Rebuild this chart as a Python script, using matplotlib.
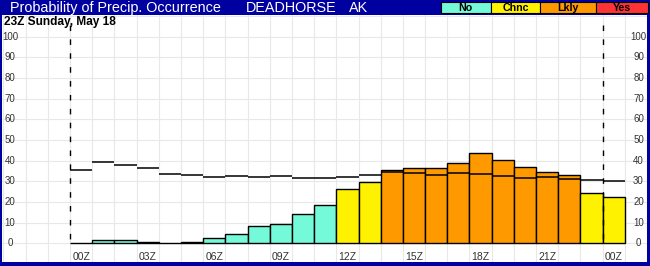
import numpy as np
import matplotlib
matplotlib.use('Agg')
import matplotlib.pyplot as plt
from matplotlib.patches import Rectangle
from matplotlib.transforms import blended_transform_factory

plt.rcParams['font.family'] = ['Liberation Sans', 'DejaVu Sans']

# hourly slots: 00Z .. next 00Z
horas = np.arange(25)
prob = [0, 1.5, 1.5, 0.8, 0, 0.8, 2.4, 4.3, 8.2, 9.5, 14.3, 18.4,
        26.4, 29.5, 35.3, 36.3, 36.3, 38.7, 43.5, 40.2, 36.8, 34.3, 32.9,
        24.2, 22.3]
referencia = [35.3, 39.2, 37.7, 36.3, 33.4, 32.9, 31.9, 32.4, 31.9, 32.4, 31.4, 31.4,
              31.9, 32.9, 34.3, 33.9, 32.9, 33.9, 33.4, 32.4, 31.4, 31.9, 31.0,
              30.5, 30.0]
rotulos_x = ['00Z', '03Z', '06Z', '09Z', '12Z', '15Z', '18Z', '21Z', '00Z']
categorias = ['No', 'Chnc', 'Lkly', 'Yes']
cores_cat = ['#74F9D9', '#FFF200', '#FF9900', '#FF3333']
limites = [20, 30, 60]

W, H = 650, 266
AZUL = '#0000A0'

def cor_de(v):
    for lim, c in zip(limites, cores_cat):
        if v < lim:
            return c
    return cores_cat[-1]

fig = plt.figure(figsize=(W / 100, H / 100), dpi=100, facecolor=AZUL)

# white plot area in pixels
x0, x1, y0, y1 = 2, 647, 14.5, 262
ax = fig.add_axes([x0 / W, 1 - y1 / H, (x1 - x0) / W, (y1 - y0) / H])
ax.set_facecolor('white')

slot_px, zero_px = 22.29, 70.3
y_zero, y_escala = 243.3, 2.067
ax.set_xlim((x0 - zero_px) / slot_px, (x1 - zero_px) / slot_px)
ax.set_ylim((y_zero - y1) / y_escala, (y_zero - y0) / y_escala)

ax.set_xticks(range(-3, 27))
ax.set_yticks(range(0, 111, 10))
ax.grid(True, color='#E8E8E8', linewidth=0.8)
ax.set_axisbelow(True)
ax.tick_params(length=0, labelbottom=False, labelleft=False)
for s in ax.spines.values():
    s.set_visible(False)

ax.bar(horas, prob, width=1, align='edge', color=[cor_de(v) for v in prob],
       edgecolor='black', linewidth=1.0, zorder=2)
ax.hlines(referencia, horas, horas + 1, color='black', linewidth=1.1, zorder=3)

for xv in (0, 24):
    ax.plot([xv, xv], [105.6, 0], color='black', linewidth=1.0,
            dashes=(4.0, 6.0), zorder=3)

# y labels both sides
tr = blended_transform_factory(fig.transFigure, ax.transData)
for v in range(0, 101, 10):
    ax.text(10 / W, v, str(v), transform=tr, ha='center', va='center',
            fontsize=7, color='#333333')
    ax.text(638.5 / W, v, str(v), transform=tr, ha='center', va='center',
            fontsize=7, color='#333333')

# x labels
for i, r in enumerate(rotulos_x):
    ax.text(i * 3 + 0.5, (y_zero - 256.7) / y_escala, r, ha='center', va='center',
            fontsize=7.5, color='#333333')

# title bar
yt = 1 - 11.8 / H
fig.text(10 / W, yt, 'Probability of Precip. Occurrence', color='white',
         fontsize=10.4, ha='left', va='baseline')
fig.text(246 / W, yt, 'DEADHORSE', color='white', fontsize=10.4,
         ha='left', va='baseline')
fig.text(349 / W, yt, 'AK', color='white', fontsize=10.4,
         ha='left', va='baseline')

caixas = [440.7, 491, 540, 595.7, 648]
for i, nome in enumerate(categorias):
    xa, xb = caixas[i], caixas[i + 1]
    fig.patches.append(Rectangle((xa / W, 1 - 13.3 / H), (xb - xa) / W, 11.6 / H,
                                 transform=fig.transFigure, facecolor=cores_cat[i],
                                 edgecolor='black', linewidth=0.8))
    fig.text((xa + xb) / 2 / W, 1 - 11 / H, nome, color='black', fontsize=7.7,
             fontweight='bold', ha='center', va='baseline')

fig.text(4 / W, 1 - 25.5 / H, '23Z Sunday, May 18', color='black', fontsize=8.6,
         fontweight='bold', ha='left', va='baseline')

fig.savefig('out.png', dpi=100, facecolor=AZUL)
